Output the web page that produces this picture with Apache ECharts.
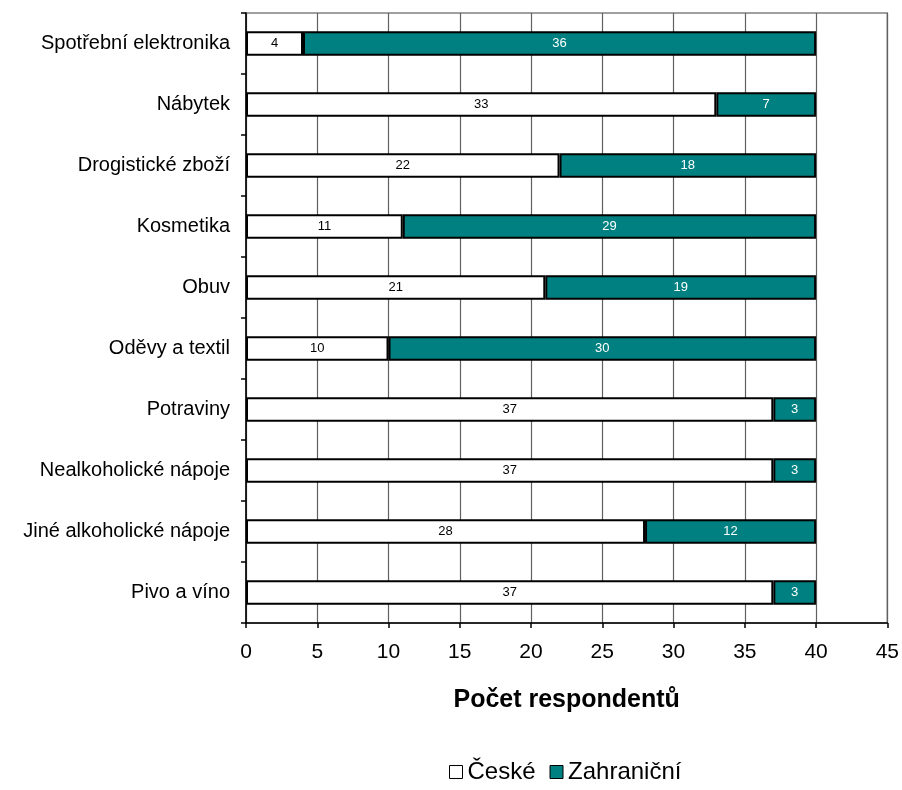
<!DOCTYPE html>
<html>
<head>
<meta charset="utf-8">
<script src="https://cdn.jsdelivr.net/npm/echarts@6/dist/echarts.min.js"></script>
<style>
  html, body { margin: 0; padding: 0; background: #ffffff; }
  #chart { width: 902px; height: 790px; }
</style>
</head>
<body>
<div id="chart"></div>
<script>
// Product categories, top to bottom
const categories = [
  'Spotřební elektronika',
  'Nábytek',
  'Drogistické zboží',
  'Kosmetika',
  'Obuv',
  'Oděvy a textil',
  'Potraviny',
  'Nealkoholické nápoje',
  'Jiné alkoholické nápoje',
  'Pivo a víno'
];

// Number of respondents preferring domestic vs. foreign products
const ceske = [4, 33, 22, 11, 21, 10, 37, 37, 28, 37];
const zahranicni = [36, 7, 18, 29, 19, 30, 3, 3, 12, 3];

const xTicks = [0, 5, 10, 15, 20, 25, 30, 35, 40, 45];

const FONT = '"Liberation Sans", Arial, sans-serif';
const TEAL = '#008080';

const chart = echarts.init(document.getElementById('chart'), null, { renderer: 'canvas' });

chart.setOption({
  animation: false,
  backgroundColor: '#ffffff',
  textStyle: { fontFamily: FONT },
  grid: {
    left: 246,
    right: 12,
    top: 13,
    bottom: 167,
    show: true,
    borderColor: '#808080',
    borderWidth: 1.5,
    backgroundColor: 'transparent'
  },
  legend: {
    left: 444,
    top: 755,
    icon: 'rect',
    itemWidth: 13,
    itemHeight: 13,
    itemGap: 14,
    textStyle: { fontFamily: FONT, fontSize: 24, color: '#000' },
    itemStyle: { borderColor: '#000', borderWidth: 1 },
    data: ['České', 'Zahraniční']
  },
  xAxis: {
    type: 'value',
    min: xTicks[0],
    max: xTicks[xTicks.length - 1],
    interval: 5,
    name: 'Počet respondentů',
    nameLocation: 'middle',
    nameGap: 65,
    nameTextStyle: { fontFamily: FONT, fontSize: 25, fontWeight: 'bold', color: '#000' },
    axisLine: { show: true, lineStyle: { color: '#000', width: 1.5 } },
    axisTick: { show: true, length: 5, lineStyle: { color: '#000', width: 1.5 } },
    axisLabel: { fontFamily: FONT, fontSize: 21, color: '#000', margin: 19 },
    splitLine: { show: true, lineStyle: { color: '#606060', width: 1.2 } }
  },
  yAxis: {
    type: 'category',
    data: categories,
    inverse: true,
    axisLine: { show: true, lineStyle: { color: '#000', width: 1.5 } },
    axisTick: { show: true, length: 5, lineStyle: { color: '#000', width: 1.5 } },
    axisLabel: { fontFamily: FONT, fontSize: 20, color: '#000', margin: 16 },
    splitLine: { show: false }
  },
  series: [
    {
      name: 'České',
      type: 'bar',
      stack: 'total',
      barWidth: '40%',
      data: ceske,
      itemStyle: { color: '#ffffff', borderColor: '#000', borderWidth: 2 },
      label: {
        show: true,
        position: 'inside',
        fontFamily: FONT,
        fontSize: 13,
        color: '#000'
      }
    },
    {
      name: 'Zahraniční',
      type: 'bar',
      stack: 'total',
      barWidth: '40%',
      data: zahranicni,
      itemStyle: { color: TEAL, borderColor: '#000', borderWidth: 2 },
      label: {
        show: true,
        position: 'inside',
        fontFamily: FONT,
        fontSize: 13,
        color: '#ffffff'
      }
    }
  ]
});
</script>
</body>
</html>
